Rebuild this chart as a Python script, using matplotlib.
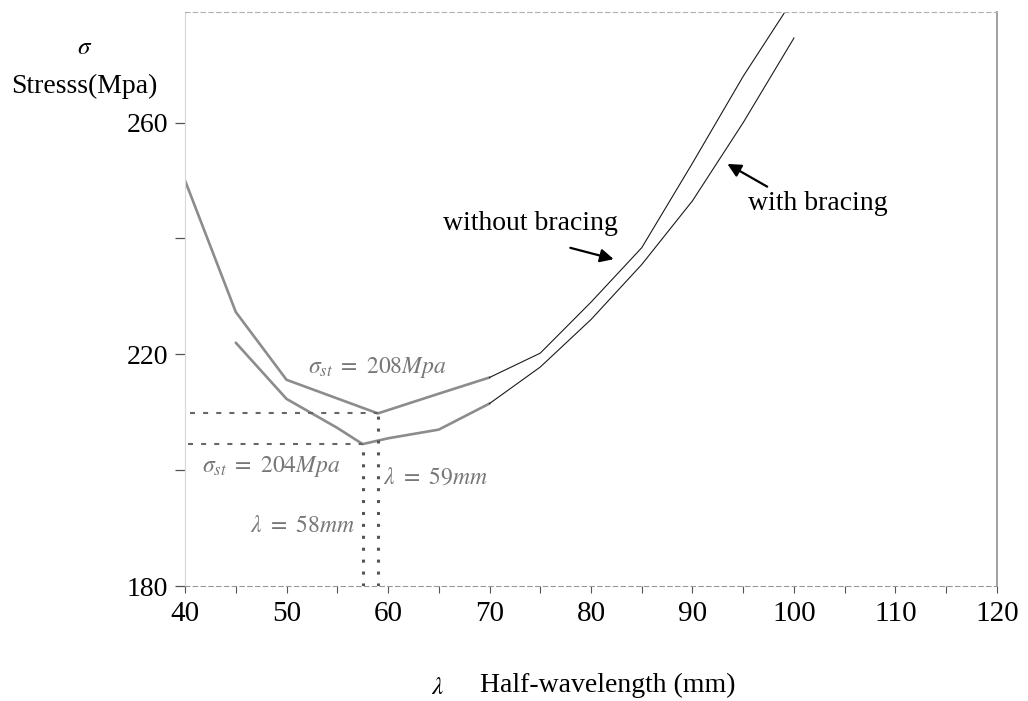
import numpy as np
import matplotlib
matplotlib.use('Agg')
import matplotlib.pyplot as plt

plt.rcParams['font.family'] = ['Liberation Serif', 'DejaVu Serif']
plt.rcParams['mathtext.fontset'] = 'stix'

# Data
x_without = [40, 45, 50, 59, 65, 70, 75, 80, 85, 90, 95, 100]
y_without = [250.0, 227.3, 215.6, 209.8, 213.2, 216.0, 220.2, 229.0, 238.4, 253.0, 268.0, 281.5]

x_with = [45, 50, 55, 57.5, 60, 65, 70, 75, 80, 85, 90, 95, 100]
y_with = [222.0, 212.3, 207.3, 204.5, 205.5, 207.0, 211.5, 217.8, 226.0, 235.5, 246.5, 260.0, 274.6]

min_without = (59.0, 209.8)
min_with = (57.5, 204.5)

xticks = [40, 50, 60, 70, 80, 90, 100, 110, 120]
yticks = [180, 220, 260]

fig = plt.figure(figsize=(10.28, 7.01), dpi=100)
ax = fig.add_axes([0.18, 0.164, 0.7898, 0.819])

# curves: thick grey scanned part, thin black continuation
for xs, ys in [(x_without, y_without), (x_with, y_with)]:
    xs = np.array(xs)
    ys = np.array(ys)
    m1 = xs <= 71
    m2 = xs >= 70
    ax.plot(xs[m1], ys[m1], color='#8c8c8c', lw=1.9, solid_capstyle='round')
    ax.plot(xs[m2], ys[m2], color='#1a1a1a', lw=0.8)

# dashed guides to the minima
ax.plot([40.5, min_without[0]], [min_without[1]] * 2, color='#666666', lw=1.5,
        linestyle=(0, (2.4, 3.9)))
ax.plot([40.3, min_with[0]], [min_with[1]] * 2, color='#666666', lw=1.5,
        linestyle=(0, (2.4, 3.9)))
ax.plot([min_without[0]] * 2, [180, min_without[1]], color='#555555', lw=2.2,
        linestyle=(0, (1, 2.9)))
ax.plot([min_with[0]] * 2, [180, min_with[1]], color='#555555', lw=2.2,
        linestyle=(0, (1, 2.9)))

# annotations
ax.text(58.9, 217.8, r'$\sigma_{st}\ =\ 208Mpa$', color='#777777', fontsize=17,
        ha='center', va='center')
ax.text(48.5, 200.6, r'$\sigma_{st}\ =\ 204Mpa$', color='#777777', fontsize=17,
        ha='center', va='center')
ax.text(59.5, 198.7, r'$\lambda\ =\ 59mm$', color='#777777', fontsize=17,
        ha='left', va='center')
ax.text(56.75, 190.2, r'$\lambda\ =\ 58mm$', color='#777777', fontsize=17,
        ha='right', va='center')

ax.annotate('', xy=(82.5, 236.3), xytext=(77.7, 238.5),
            arrowprops=dict(arrowstyle='-|>', color='black', lw=1.6, mutation_scale=20))
ax.text(74.0, 242.6, 'without bracing', fontsize=20, ha='center', va='center')
ax.annotate('', xy=(93.2, 253.1), xytext=(97.6, 248.7),
            arrowprops=dict(arrowstyle='-|>', color='black', lw=1.6, mutation_scale=20))
ax.text(102.3, 246.1, 'with bracing', fontsize=20, ha='center', va='center')

ax.set_xlim(40, 120)
ax.set_ylim(180, 279.1)
ax.set_xticks(xticks)
ax.set_xticks(np.arange(45, 120, 5), minor=True)
ax.set_yticks(yticks)
ax.set_yticks([200, 240], minor=True)
ax.tick_params(axis='x', which='both', direction='out', length=5, width=0.8,
               color='#555555', labelsize=21, pad=6)
ax.tick_params(axis='y', which='both', direction='out', length=7, width=0.9,
               color='#555555', labelsize=20, pad=5)

for side in ['left', 'bottom', 'top', 'right']:
    ax.spines[side].set_linewidth(0.8)
ax.spines['left'].set_color('#d8d8d8')
ax.spines['bottom'].set_color('#999999')
ax.spines['bottom'].set_linestyle((0, (4, 3)))
ax.spines['top'].set_color('#b0b0b0')
ax.spines['top'].set_linestyle((0, (4, 3)))
ax.spines['right'].set_color('#999999')
ax.spines['right'].set_linewidth(1.3)

# axis titles placed like the original
fig.text(85 / 1028, 1 - 48 / 701, r'$\sigma$', fontsize=18, ha='center', va='center')
fig.text(84 / 1028, 1 - 86 / 701, 'Stresss(Mpa)', fontsize=20, ha='center', va='center')
fig.text(438 / 1028, 1 - 688 / 701, r'$\lambda$', fontsize=18, ha='center', va='center')
fig.text(480 / 1028, 1 - 685 / 701, 'Half-wavelength (mm)', fontsize=20,
         ha='left', va='center')

fig.savefig('out.png', dpi=100)
